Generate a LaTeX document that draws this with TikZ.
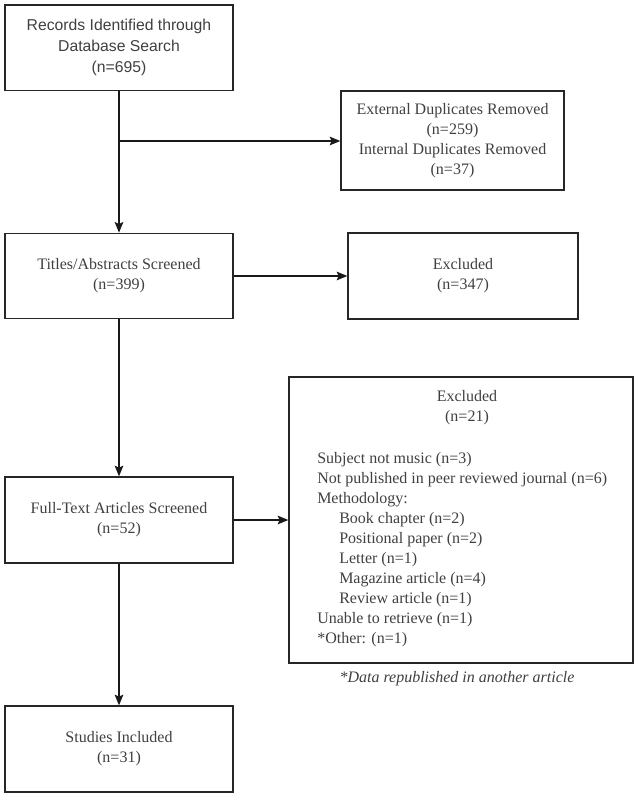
\documentclass[tikz,border=0pt]{standalone}
\usepackage{fontspec}
\setmainfont{Liberation Serif}
\newfontfamily\arialfont{Liberation Sans}
\usepackage{tikz}
\usetikzlibrary{arrows.meta, positioning}

\tikzset{
  stage/.style={draw=black!85, line width=1pt, fill=white, align=center, text=black!75,
    font=\fontsize{12}{15}\selectfont, inner sep=2pt},
  arr/.style={-{Stealth[length=8pt, width=6.5pt, inset=1.5pt]}, line width=1pt, draw=black!90},
  plain/.style={line width=1pt, draw=black!90}
}

\begin{document}
\begin{tikzpicture}[x=0.75pt, y=-0.75pt]
				\useasboundingbox[fill=white] (0, 0) rectangle (638, 797);

				\node[stage, minimum width=171pt, minimum height=64pt, font=\arialfont\fontsize{11.8}{15.75}\selectfont] (records) at (119, 47.5) {Records Identified through\\Database Search\\(n=695)};
				\node[stage, minimum width=167.25pt, minimum height=74.25pt] (dups) at (452.5, 140.5) {External Duplicates Removed\\(n=259)\\Internal Duplicates Removed\\(n=37)};
				\node[stage, minimum width=171pt, minimum height=64pt] (titles) at (119, 276) {Titles/Abstracts Screened\\(n=399)};
				\node[stage, minimum width=172.5pt, minimum height=64.5pt] (excltitles) at (463, 276) {Excluded\\(n=347)};
				\node[stage, minimum width=171pt, minimum height=64.5pt] (fulltext) at (119, 520) {Full-Text Articles Screened\\(n=52)};
				\node[stage, minimum width=258pt, minimum height=214.5pt] (exclfull) at (461, 520) {};
				\node[stage, minimum width=171pt, minimum height=64.5pt] (included) at (119, 749) {Studies Included\\(n=31)};

				% text inside the second exclusion box
				\node[align=center, text=black!75, font=\fontsize{12}{15}\selectfont] (exclhead) at (467, 408) {Excluded\\(n=21)};
				\node[anchor=north west, align=left, inner sep=0pt, text=black!75, font=\fontsize{12}{15}\selectfont] (excllist) at (317, 452) {Subject not music (n=3)\\
					Not published in peer reviewed journal (n=6)\\
					Methodology:\\
					\hspace*{16.5pt}Book chapter (n=2)\\
					\hspace*{16.5pt}Positional paper (n=2)\\
					\hspace*{16.5pt}Letter (n=1)\\
					\hspace*{16.5pt}Magazine article (n=4)\\
					\hspace*{16.5pt}Review article (n=1)\\
					Unable to retrieve (n=1)\\
					*Other: (n=1)};
				\node[text=black!75, font=\itshape\fontsize{12}{15}\selectfont] (note) at (457, 679) {*Data republished in another article};

				\coordinate (split) at (119, 141);
				\draw[arr] (records) -- (titles);
				\draw[arr] (split) -- (split -| dups.west);
				\draw[arr] (titles) -- (excltitles);
				\draw[arr] (titles) -- (fulltext);
				\draw[arr] (fulltext) -- (fulltext -| exclfull.west);
				\draw[arr] (fulltext) -- (included);
			\end{tikzpicture}
\end{document}
